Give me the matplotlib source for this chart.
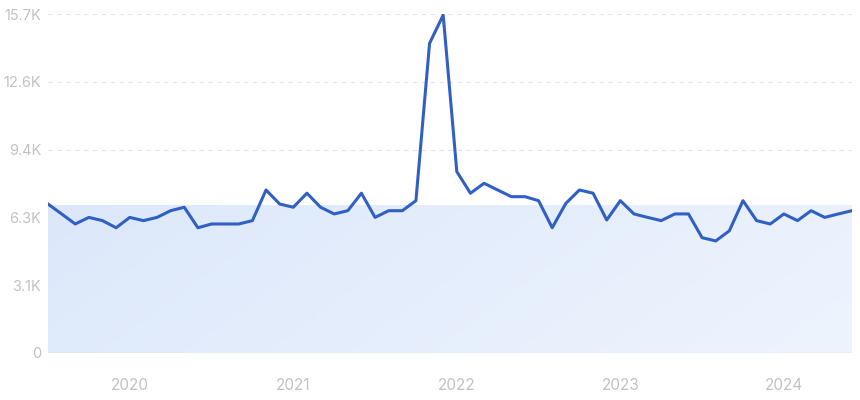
import numpy as np
import matplotlib.pyplot as plt
from matplotlib.colors import LinearSegmentedColormap

# monthly values, Jul 2019 .. Jun 2024
values = [6900, 6440, 5975, 6280, 6130, 5800, 6280, 6130, 6280, 6590,
          6750, 5800, 5975, 5975, 5975, 6130, 7550, 6900, 6750, 7400,
          6750, 6440, 6590, 7400, 6280, 6590, 6590, 7055, 14340, 15650,
          8400, 7400, 7860, 7550, 7240, 7240, 7055, 5800, 6930, 7550,
          7400, 6160, 7055, 6440, 6280, 6130, 6440, 6440, 5340, 5190,
          5660, 7055, 6130, 5975, 6440, 6130, 6590, 6280, 6440, 6590]
year_labels = ["2020", "2021", "2022", "2023", "2024"]
year_pos = [6, 18, 30, 42, 54]
y_ticks = [0, 3140, 6280, 9420, 12560, 15700]
y_labels = ["0", "3.1K", "6.3K", "9.4K", "12.6K", "15.7K"]
avg_level = 6820

plt.rcParams['font.family'] = ['Inter', 'DejaVu Sans']

figure = plt.figure(figsize=(8.6, 4.0), dpi=100)
axes = figure.add_axes([48/860, 47/400, 804/860, 339/400])

x = np.arange(len(values))
axes.set_xlim(0, len(values) - 1)
axes.set_ylim(0, 15700)

# diagonal gradient fill below the average level
gx, gy = np.meshgrid(np.linspace(0, 1, 200), np.linspace(0, 1, 60))
grad = 0.8 * gx + 0.2 * gy
cmap = LinearSegmentedColormap.from_list("fillgrad", ["#dce8fa", "#eef4fe"])
axes.imshow(grad, extent=[0, len(values) - 1, 0, avg_level], aspect="auto",
            cmap=cmap, zorder=1, interpolation="bicubic", origin="upper")

for t in y_ticks[1:]:
    axes.axhline(t, color="#e2e7ef", linestyle=(0, (4, 4)), linewidth=0.8, zorder=0)
axes.axhline(0, color="#dfe3ea", linewidth=1.0, zorder=2)

axes.plot(x, values, color="#3060c6", linewidth=2.2, zorder=3)

for s in axes.spines.values():
    s.set_visible(False)

axes.set_yticks(y_ticks)
axes.set_yticklabels(y_labels)
axes.set_xticks(year_pos)
axes.set_xticklabels(year_labels)
axes.tick_params(axis="y", length=0, pad=5, labelsize=10.5, labelcolor="#c2c2c6")
axes.tick_params(axis="x", length=0, pad=18, labelsize=11, labelcolor="#c2c2c6")

figure.savefig("out.png", dpi=100)
